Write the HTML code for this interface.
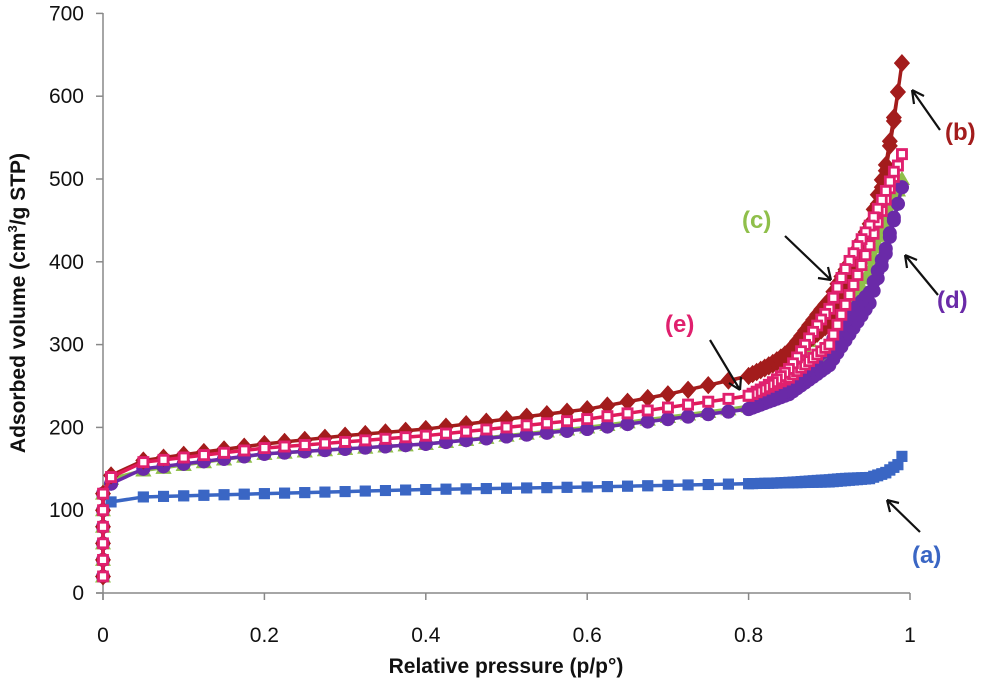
<!DOCTYPE html>
<html><head><meta charset="utf-8"><style>
body{margin:0;background:#fff;}
svg{display:block;font-family:"Liberation Sans",sans-serif;}
</style></head><body>
<svg id="s" width="1000" height="684" xmlns="http://www.w3.org/2000/svg">
<g stroke="#888" stroke-width="1.5">
<line x1="103" y1="13" x2="103" y2="600"/>
<line x1="96" y1="593" x2="910" y2="593"/>
</g>
<g id="ticks" stroke="#888" stroke-width="1.5"></g>
<g font-size="21" fill="#111" text-anchor="end" id="yl"></g>
<g font-size="21" fill="#111" text-anchor="middle" id="xl"></g>
<text x="506" y="673" font-size="21" font-weight="bold" text-anchor="middle" fill="#111">Relative pressure (p/p°)</text>
<text transform="translate(25,303) rotate(-90)" font-size="21" font-weight="bold" text-anchor="middle" fill="#111">Adsorbed volume (cm<tspan font-size="13" dy="-8">3</tspan><tspan dy="8">/g STP)</tspan></text>
<g id="plot"></g>
<g font-size="24" font-weight="bold">
<text x="945" y="140" fill="#a31c1c">(b)</text>
<text x="742" y="228" fill="#8fbf4a">(c)</text>
<text x="937" y="308" fill="#6a2aa8">(d)</text>
<text x="665" y="332" fill="#e0206e">(e)</text>
<text x="912" y="563" fill="#3a66c4">(a)</text>
</g>
<g stroke="#111" stroke-width="2.2" fill="none">
<path d="M940 130 L912 90 M912 90 l2 14 M912 90 l12 6"/>
<path d="M785 236 L831 280 M831 280 l-13 -2 M831 280 l-3 -13"/>
<path d="M938 295 L905 255 M905 255 l2 13 M905 255 l12 5"/>
<path d="M710 340 L740 390 M740 390 l-11 -7 M740 390 l1 -13"/>
<path d="M920 532 L887 500 M887 500 l3 12 M887 500 l12 3"/>
</g>
</svg>
<script>
const X=p=>103+807*p, Y=v=>593-0.828*v;
const ns="http://www.w3.org/2000/svg";
function el(t,a,par){const e=document.createElementNS(ns,t);for(const k in a)e.setAttribute(k,a[k]);(par||document.getElementById('plot')).appendChild(e);return e;}
const tk=document.getElementById('ticks');
for(let v=0;v<=700;v+=100){el('line',{x1:96,x2:103,y1:Y(v),y2:Y(v)},tk);const t=el('text',{x:84,y:Y(v)+7},document.getElementById('yl'));t.textContent=v;}
[0,0.2,0.4,0.6,0.8,1].forEach(p=>{el('line',{x1:X(p),x2:X(p),y1:593,y2:600},tk);const t=el('text',{x:X(p),y:642},document.getElementById('xl'));t.textContent=p;});
function interp(k,p){for(let i=1;i<k.length;i++){if(p<=k[i][0]){const a=k[i-1],b=k[i];return a[1]+(b[1]-a[1])*(p-a[0])/(b[0]-a[0]);}}return k[k.length-1][1];}
const S={
a:{k:[[0.01,110],[0.05,116],[0.2,120],[0.4,125],[0.6,128],[0.8,132],[0.9,134],[0.95,138],[0.97,145],[0.985,155],[0.99,165]],H:3,c:'#3a66c4',m:'sq'},
c:{k:[[0.01,138],[0.05,148],[0.2,168],[0.4,180],[0.6,200],[0.8,225],[0.85,245],[0.9,290],[0.95,390],[0.99,500]],H:60,c:'#8fbf4a',m:'tri'},
d:{k:[[0.01,132],[0.05,150],[0.2,168],[0.4,180],[0.6,198],[0.8,222],[0.85,240],[0.9,275],[0.95,350],[0.97,410],[0.99,490]],H:25,c:'#6a2aa8',m:'ci'},
b:{k:[[0.01,142],[0.05,160],[0.1,167],[0.2,180],[0.3,190],[0.4,198],[0.5,210],[0.6,222],[0.7,240],[0.8,262],[0.85,285],[0.9,325],[0.93,380],[0.95,430],[0.97,510],[0.98,570],[0.99,640]],H:30,c:'#a31c1c',m:'di'},
e:{k:[[0.01,140],[0.05,158],[0.2,175],[0.4,190],[0.6,210],[0.8,238],[0.85,260],[0.9,300],[0.95,420],[0.99,530]],H:45,c:'#e01a5a',m:'osq'}
};
const ps=[0.01,0.05,0.075,0.1];for(let i=5;i<32;i++)ps.push(i*0.025);for(let i=160;i<=198;i++)ps.push(i*0.005);
function mk(m,x,y,c){
 if(m=='sq')el('rect',{x:x-5.5,y:y-5.5,width:11,height:11,fill:c});
 else if(m=='osq')el('rect',{x:x-4.5,y:y-4.5,width:9,height:9,fill:'#fff',stroke:'#e0206e','stroke-width':2.8});
 else if(m=='ci')el('circle',{cx:x,cy:y,r:7,fill:c});
 else if(m=='tri')el('path',{d:`M${x} ${y-8} L${x+8} ${y+6} L${x-8} ${y+6}Z`,fill:c});
 else el('path',{d:`M${x} ${y-9} L${x+8} ${y} L${x} ${y+9} L${x-8} ${y}Z`,fill:c});
}
['c','d','a','b','e'].forEach(n=>{const s=S[n];
 const low=n=='a'?[20,40,60,80,100]:[20,40,60,80,100,120];
 const ad=[],de=[];
 low.forEach(v=>ad.push([0,v]));
 ps.forEach(p=>ad.push([p,interp(s.k,p)]));
 ps.slice().reverse().forEach(p=>de.push([p,interp(s.k,p)+s.H*Math.exp(-Math.pow((p-0.91)/0.05,2))*(p<0.985?1:0)]));
 const all=ad.concat(de);
 el('polyline',{points:all.map(q=>X(q[0])+','+Y(q[1])).join(' '),fill:'none',stroke:s.c,'stroke-width':3.5});
 all.forEach(q=>mk(s.m,X(q[0]),Y(q[1]),s.c));
});
</script>
</body></html>
